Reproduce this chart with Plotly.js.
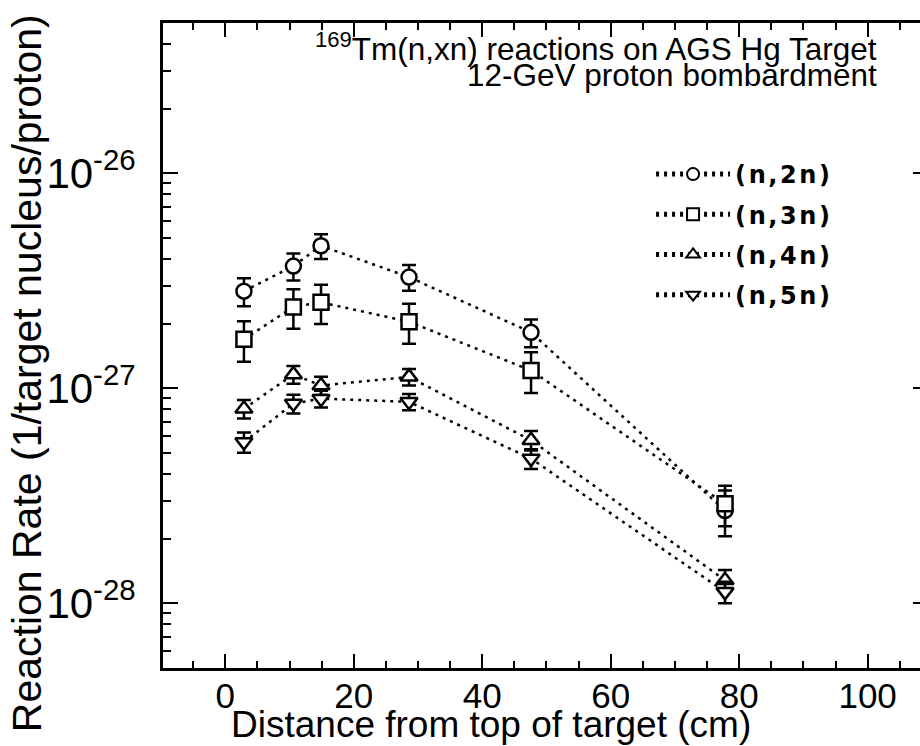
<!DOCTYPE html>
<html>
<head>
<meta charset="utf-8">
<script src="https://cdn.plot.ly/plotly-3.0.1.min.js"></script>
<style>
  html, body { margin: 0; padding: 0; background: #fff; overflow: hidden; }
  #chart { width: 940px; height: 746px; }
  .legend .legendtext { letter-spacing: 2.6px; }
  .legend .scrollbox { clip-path: none !important; }
</style>
</head>
<body>
<div id="chart"></div>
<script>
// Distance from top of target (cm)
const distance = [2.9, 10.6, 14.9, 28.6, 47.6, 77.8];

// Reaction rates (1/target nucleus/proton)
const rate_n2n = [2.83e-27, 3.70e-27, 4.60e-27, 3.29e-27, 1.82e-27, 2.70e-28];
const err_n2n  = [0.42e-27, 0.53e-27, 0.61e-27, 0.45e-27, 0.27e-27, 0.65e-28];

const rate_n3n = [1.69e-27, 2.39e-27, 2.51e-27, 2.04e-27, 1.21e-27, 2.90e-28];
const err_n3n  = [0.36e-27, 0.50e-27, 0.52e-27, 0.43e-27, 0.26e-27, 0.62e-28];

const rate_n4n = [8.03e-28, 1.16e-27, 1.03e-27, 1.13e-27, 5.73e-28, 1.28e-28];
const err_n4n  = [0.80e-28, 0.11e-27, 0.10e-27, 0.10e-27, 0.60e-28, 0.15e-28];

const rate_n5n = [5.62e-28, 8.49e-28, 8.95e-28, 8.65e-28, 4.71e-28, 1.13e-28];
const err_n5n  = [0.60e-28, 0.85e-28, 0.80e-28, 0.75e-28, 0.50e-28, 0.13e-28];

const seriesNames = ['(n,2n)', '(n,3n)', '(n,4n)', '(n,5n)'];
const seriesSymbols = ['circle', 'square', 'triangle-up', 'triangle-down'];

const yTickVals = [1e-28, 1e-27, 1e-26];
const yTickText = ['10<sup>-28</sup>', '10<sup>-27</sup>', '10<sup>-26</sup>'];

const xTitle = 'Distance from top of target (cm)';
const yTitle = 'Reaction Rate (1/target nucleus/proton)';
const noteLine1 = '<sup>169</sup>Tm(n,xn) reactions on AGS Hg Target';
const noteLine2 = '12-GeV proton bombardment';

const rates = [rate_n2n, rate_n3n, rate_n4n, rate_n5n];
const errs = [err_n2n, err_n3n, err_n4n, err_n5n];

const traces = rates.map((r, i) => ({
  type: 'scatter',
  mode: 'lines+markers',
  x: distance,
  y: r,
  name: seriesNames[i],
  legendgroup: 'g' + i,
  line: { color: 'black', width: 2.5, dash: '3px,5px' },
  marker: {
    symbol: seriesSymbols[i],
    size: 15,
    color: 'white',
    line: { color: 'black', width: 2.5 }
  },
  error_y: {
    type: 'data',
    array: errs[i],
    visible: true,
    color: 'black',
    thickness: 2.5,
    width: 7
  }
}));

const FAM = "Arial, 'Liberation Sans', Helvetica, sans-serif";
const txt = (size) => ({ family: FAM, size: size, color: 'black' });

const layout = {
  width: 940,
  height: 746,
  margin: { l: 163, r: 12, t: 23, b: 78 },
  paper_bgcolor: 'white',
  plot_bgcolor: 'white',
  showlegend: true,
  legend: {
    x: 0.638,
    y: 0.80,
    xanchor: 'left',
    yanchor: 'top',
    bgcolor: 'rgba(0,0,0,0)',
    borderwidth: 0,
    itemwidth: 74,
    itemsizing: 'constant',
    tracegroupgap: 6,
    font: { family: "'DejaVu Sans', sans-serif", size: 24, color: 'black', weight: 'bold' }
  },
  xaxis: {
    range: [-9.7, 109.4],
    tickmode: 'linear',
    tick0: 0,
    dtick: 20,
    ticks: 'inside',
    ticklen: 14,
    tickwidth: 2,
    tickcolor: 'black',
    minor: { ticks: 'inside', dtick: 5, tick0: 0, ticklen: 7, tickwidth: 2, tickcolor: 'black', showgrid: false },
    showline: true,
    linecolor: 'black',
    linewidth: 3,
    mirror: 'allticks',
    showgrid: false,
    zeroline: false,
    ticklabelstandoff: -5,
    tickfont: txt(35)
  },
  yaxis: {
    type: 'log',
    range: [Math.log10(5e-29), Math.log10(5e-26)],
    tickmode: 'array',
    tickvals: yTickVals,
    ticktext: yTickText,
    ticks: 'inside',
    ticklen: 15,
    tickwidth: 2,
    tickcolor: 'black',
    minor: { ticks: 'inside', tickmode: 'linear', dtick: 'D1', ticklen: 8, tickwidth: 2, tickcolor: 'black', showgrid: false },
    showline: true,
    linecolor: 'black',
    linewidth: 3,
    mirror: 'allticks',
    showgrid: false,
    zeroline: false,
    ticklabelstandoff: 16,
    tickfont: txt(42)
  },
  annotations: [
    {
      xref: 'paper', yref: 'paper',
      x: 0.936, y: 0.9632,
      xanchor: 'right', yanchor: 'middle',
      showarrow: false,
      text: noteLine1,
      font: txt(31.5)
    },
    {
      xref: 'paper', yref: 'paper',
      x: 0.936, y: 0.9198,
      xanchor: 'right', yanchor: 'middle',
      showarrow: false,
      text: noteLine2,
      font: txt(31.5)
    },
    {
      xref: 'paper', yref: 'paper',
      x: 0.4288, y: -0.088,
      xanchor: 'center', yanchor: 'middle',
      showarrow: false,
      text: xTitle,
      font: txt(37)
    },
    {
      xref: 'paper', yref: 'paper',
      x: -0.1778, y: 0.457,
      xanchor: 'center', yanchor: 'middle',
      textangle: -90,
      showarrow: false,
      text: yTitle,
      font: txt(41)
    }
  ]
};

Plotly.newPlot('chart', traces, layout, { displayModeBar: false, staticPlot: true });
</script>
</body>
</html>
